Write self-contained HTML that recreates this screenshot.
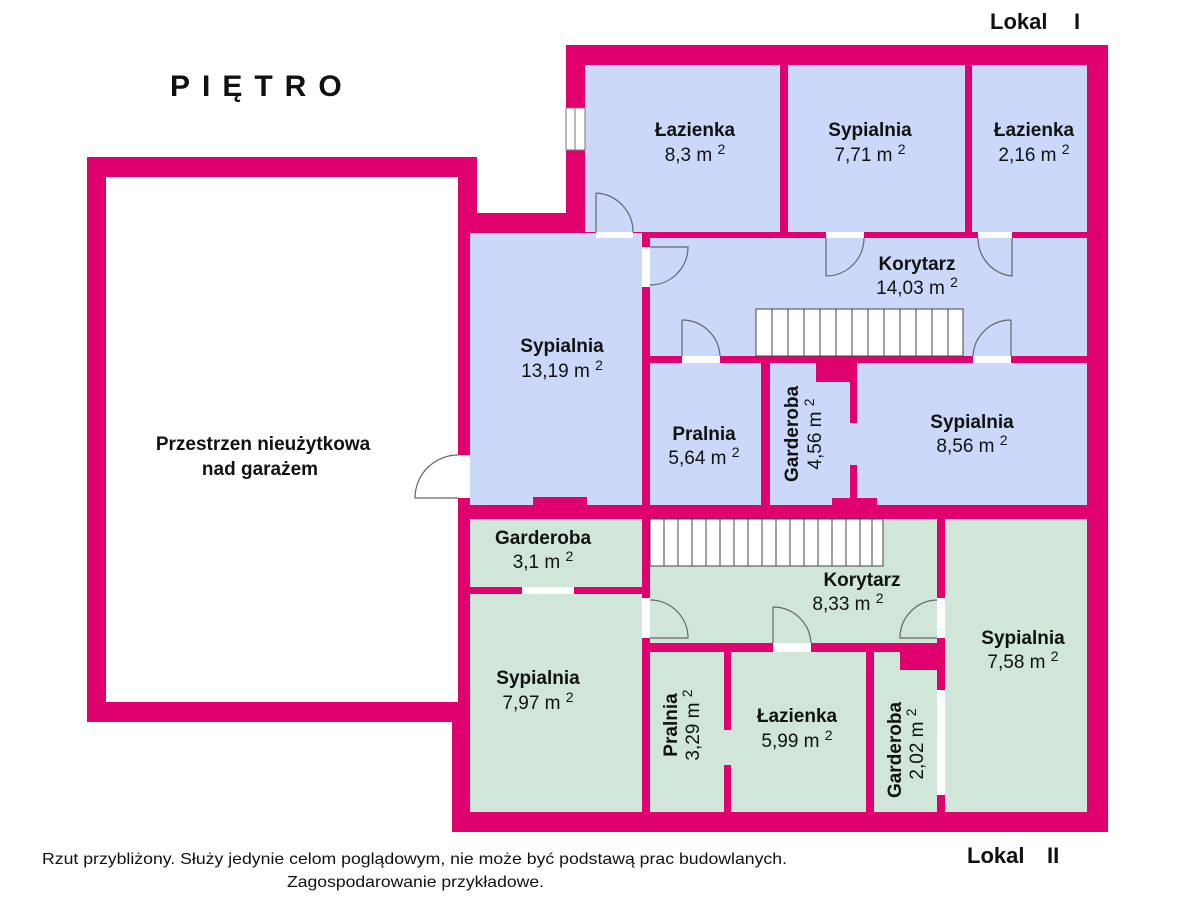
<!DOCTYPE html>
<html><head><meta charset="utf-8"><style>
body{margin:0;background:#fff;}
svg{display:block}
text{font-family:"Liberation Sans",sans-serif;fill:#111}
.b{font-weight:bold;font-size:19px}
.n{font-size:19px}
</style></head><body>
<svg width="1200" height="900" viewBox="0 0 1200 900" xmlns="http://www.w3.org/2000/svg">
<rect width="1200" height="900" fill="#fff"/>
<g fill="#e0006e">
<rect x="87" y="157" width="390" height="565"/>
<rect x="566" y="45" width="542" height="787"/>
<rect x="475" y="213" width="100" height="300"/>
<rect x="452" y="500" width="120" height="332"/>
<rect x="393" y="501" width="21" height="44"/>
</g>
<rect x="106" y="177" width="352" height="525" fill="#fff"/>
<rect x="458" y="455" width="12" height="43" fill="#fff"/>
<path d="M458 455 A43 43 0 0 0 415 498 L458 498" fill="none" stroke="#666" stroke-width="1.2"/>
<g fill="#cbd8fa">
<rect x="585" y="65" width="195" height="167"/>
<rect x="788" y="65" width="177" height="167"/>
<rect x="972" y="65" width="115" height="167"/>
<rect x="650" y="238" width="437" height="118"/>
<rect x="470" y="233" width="172" height="272"/>
<rect x="650" y="363" width="111" height="142"/>
<rect x="770" y="363" width="80" height="142"/>
<rect x="857" y="363" width="230" height="142"/>
<rect x="850" y="423" width="7" height="42"/>
</g>
<g fill="#e0006e">
<rect x="816" y="363" width="34" height="19"/>
<rect x="533" y="497" width="54" height="8"/>
<rect x="832" y="498" width="45" height="7"/>
</g>
<g fill="#cfe6d8">
<rect x="470" y="519" width="172" height="68"/>
<rect x="650" y="519" width="287" height="124"/>
<rect x="945" y="519" width="142" height="293"/>
<rect x="470" y="594" width="172" height="218"/>
<rect x="650" y="652" width="74" height="160"/>
<rect x="731" y="652" width="135" height="160"/>
<rect x="724" y="730" width="7" height="35"/>
<rect x="874" y="652" width="63" height="160"/>
</g>
<rect x="900" y="652" width="37" height="18" fill="#e0006e"/>
<rect x="566" y="108" width="19" height="42" fill="#fff" stroke="#777" stroke-width="1"/>
<line x1="575" y1="108" x2="575" y2="150" stroke="#777"/>
<g fill="#fff" stroke="#444" stroke-width="1">
<rect x="756" y="309" width="207" height="47"/>
<rect x="650" y="519" width="233" height="47"/>
</g>
<g stroke="#444" stroke-width="1">
<path d="M772 309V356M788 309V356M804 309V356M820 309V356M836 309V356M852 309V356M868 309V356M884 309V356M900 309V356M916 309V356M932 309V356M948 309V356"/>
<path d="M664 519V566M678 519V566M692 519V566M706 519V566M720 519V566M734 519V566M748 519V566M762 519V566M776 519V566M790 519V566M804 519V566M818 519V566M832 519V566M846 519V566M860 519V566M872 519V566"/>
</g>
<g fill="#fff">
<rect x="596" y="232" width="37" height="6"/>
<rect x="826" y="232" width="38" height="6"/>
<rect x="978" y="232" width="34" height="6"/>
<rect x="642" y="247" width="8" height="40"/>
<rect x="682" y="356" width="38" height="7"/>
<rect x="973" y="356" width="38" height="7"/>
<rect x="642" y="598" width="8" height="40"/>
<rect x="773" y="643" width="38" height="9"/>
<rect x="937" y="598" width="8" height="40"/>
<rect x="522" y="587" width="52" height="7"/>
<rect x="937" y="690" width="8" height="105"/>
</g>
<g fill="none" stroke="#666" stroke-width="1.2">
<path d="M596 193V232M596 193A39 39 0 0 1 633 232"/>
<path d="M826 238V276A38 38 0 0 0 864 238"/>
<path d="M1012 238V276A38 38 0 0 1 978 238"/>
<path d="M650 247H688A38 38 0 0 1 650 285"/>
<path d="M682 320V356M682 320A38 38 0 0 1 720 356"/>
<path d="M1011 320V356M1011 320A38 38 0 0 0 973 356"/>
<path d="M650 638H688A38 38 0 0 0 650 600"/>
<path d="M773 607V643M773 607A38 38 0 0 1 811 643"/>
<path d="M937 638H900A38 38 0 0 1 937 600"/>
</g>
<text x="170" y="96" style="font-weight:bold;font-size:30px;letter-spacing:12px">PIĘTRO</text>
<text x="990" y="29" style="font-weight:bold;font-size:22px">Lokal</text>
<text x="1074" y="29" style="font-weight:bold;font-size:22px">I</text>
<text x="967" y="863" style="font-weight:bold;font-size:22px">Lokal</text>
<text x="1047" y="863" style="font-weight:bold;font-size:22px">II</text>
<g text-anchor="middle">
<text class="b" x="695" y="136">Łazienka</text><text class="n" x="695" y="161">8,3 m <tspan dy="-7" font-size="14">2</tspan></text>
<text class="b" x="870" y="136">Sypialnia</text><text class="n" x="870" y="161">7,71 m <tspan dy="-7" font-size="14">2</tspan></text>
<text class="b" x="1034" y="136">Łazienka</text><text class="n" x="1034" y="161">2,16 m <tspan dy="-7" font-size="14">2</tspan></text>
<text class="b" x="917" y="270">Korytarz</text><text class="n" x="917" y="294">14,03 m <tspan dy="-7" font-size="14">2</tspan></text>
<text class="b" x="562" y="352">Sypialnia</text><text class="n" x="562" y="377">13,19 m <tspan dy="-7" font-size="14">2</tspan></text>
<text class="b" x="704" y="440">Pralnia</text><text class="n" x="704" y="464">5,64 m <tspan dy="-7" font-size="14">2</tspan></text>
<text class="b" x="972" y="428">Sypialnia</text><text class="n" x="972" y="452">8,56 m <tspan dy="-7" font-size="14">2</tspan></text>
<text class="b" x="263" y="450">Przestrzen nieużytkowa</text><text class="b" x="260" y="475">nad garażem</text>
<text class="b" x="543" y="544">Garderoba</text><text class="n" x="543" y="568">3,1 m <tspan dy="-7" font-size="14">2</tspan></text>
<text class="b" x="862" y="586">Korytarz</text><text class="n" x="848" y="610">8,33 m <tspan dy="-7" font-size="14">2</tspan></text>
<text class="b" x="1023" y="644">Sypialnia</text><text class="n" x="1023" y="668">7,58 m <tspan dy="-7" font-size="14">2</tspan></text>
<text class="b" x="538" y="684">Sypialnia</text><text class="n" x="538" y="709">7,97 m <tspan dy="-7" font-size="14">2</tspan></text>
<text class="b" x="797" y="722">Łazienka</text><text class="n" x="797" y="747">5,99 m <tspan dy="-7" font-size="14">2</tspan></text>
<text class="b" transform="translate(798,434) rotate(-90)">Garderoba</text>
<text class="n" transform="translate(821,434) rotate(-90)">4,56 m <tspan dy="-7" font-size="14">2</tspan></text>
<text class="b" transform="translate(677,725) rotate(-90)">Pralnia</text>
<text class="n" transform="translate(699,725) rotate(-90)">3,29 m <tspan dy="-7" font-size="14">2</tspan></text>
<text class="b" transform="translate(901,750) rotate(-90)">Garderoba</text>
<text class="n" transform="translate(923,744) rotate(-90)">2,02 m <tspan dy="-7" font-size="14">2</tspan></text>
</g>
<text x="42" y="864" font-size="16" textLength="745" lengthAdjust="spacingAndGlyphs">Rzut przybliżony. Służy jedynie celom poglądowym, nie może być podstawą prac budowlanych.</text>
<text x="287" y="887" font-size="16" textLength="257" lengthAdjust="spacingAndGlyphs">Zagospodarowanie przykładowe.</text>
</svg>
</body></html>
